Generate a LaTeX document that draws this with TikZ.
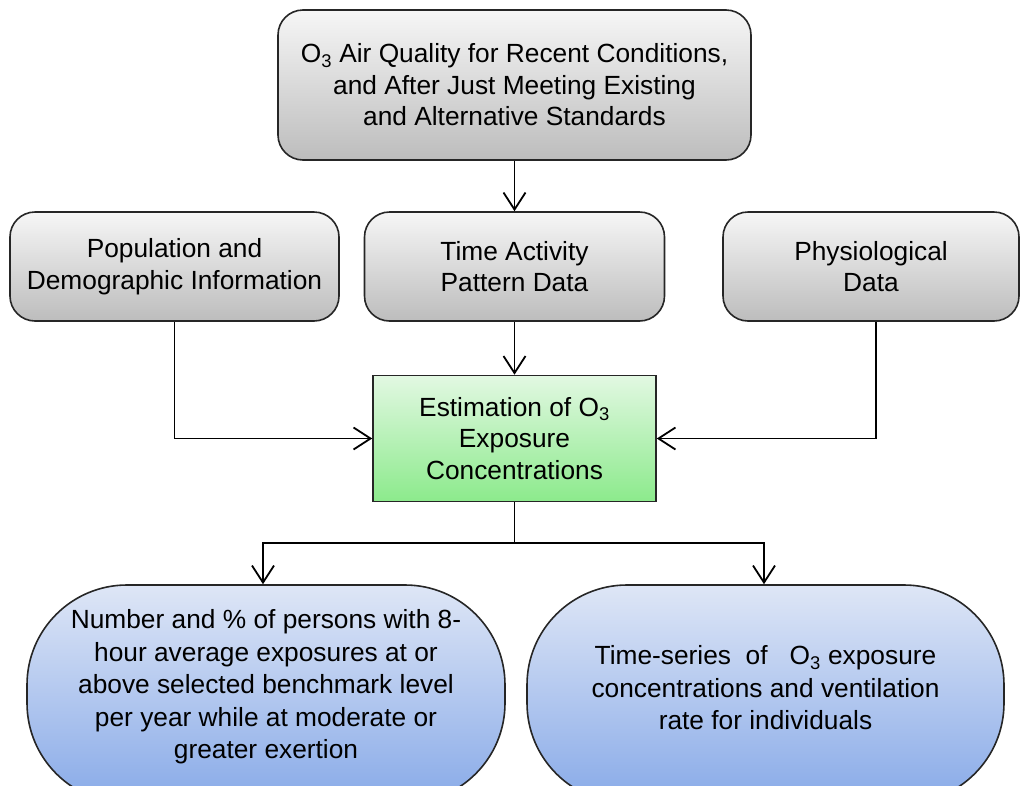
\documentclass[tikz,border=0pt]{standalone}
\usepackage{fontspec}
\setmainfont{Liberation Sans}
\usetikzlibrary{arrows.meta,shadings}
\newcommand\ozsub{\textsubscript{3}}
\begin{document}
\begin{tikzpicture}[x=1pt,y=-1pt,
  boxbase/.style={draw=black!85, line width=1.6pt, align=center, inner sep=0pt,
    font=\fontsize{26.3}{31.5}\selectfont},
  graybox/.style={boxbase, rounded corners=25pt, top color=gray!7, bottom color=gray!52},
  greenbox/.style={boxbase, top color={rgb,255:red,226;green,248;blue,226},
    bottom color={rgb,255:red,140;green,234;blue,140}},
  bluebox/.style={draw=black!85, line width=1.6pt, rounded corners=100pt, inner sep=0pt,
    top color={rgb,255:red,222;green,230;blue,246}, bottom color={rgb,255:red,136;green,170;blue,232}},
  bluetext/.style={align=center, inner sep=0pt, font=\fontsize{26.3}{32.5}\selectfont},
  plainline/.style={line width=1.8pt},
  link/.style={plainline, -{Straight Barb[length=17pt,width=22pt]}}]
\useasboundingbox (0,0) rectangle (1020,785);
\clip (0,0) rectangle (1020,785);

% source boxes
\node[graybox, minimum width=473pt, minimum height=150pt] (aq) at (514.5,85)
  {O\ozsub\ Air Quality for Recent Conditions,\\and After Just Meeting Existing\\and Alternative Standards};
\node[graybox, minimum width=329pt, minimum height=109pt] (pop) at (174.5,266.5)
  {Population and\\Demographic Information};
\node[graybox, minimum width=300pt, minimum height=109pt] (tap) at (514.5,266.5)
  {Time Activity\\Pattern Data};
\node[graybox, minimum width=296pt, minimum height=109pt] (phys) at (871,266.5)
  {Physiological\\Data};

% central estimation step
\node[greenbox, minimum width=283pt, minimum height=126pt] (est) at (514.5,438.5)
  {Estimation of O\ozsub\\Exposure\\Concentrations};

% outputs
\node[bluebox, minimum width=478pt, minimum height=218pt] (nb) at (266,694) {};
\node[bluetext] (nbtext) at (266,687)
  {Number and \% of persons with 8-\\hour average exposures at or\\above selected benchmark level\\per year while at moderate or\\greater exertion};
\node[bluebox, minimum width=477pt, minimum height=218pt] (ts) at (765.5,694) {};
\node[bluetext] (tstext) at (765.5,688)
  {Time-series~ of~~ O\ozsub\ exposure\\concentrations and ventilation\\rate for individuals};

% connectors
\draw[link] (aq.south) -- (tap.north);
\draw[link] (tap.south) -- (est.north);
\draw[link] (pop.south) |- (est.west);
\draw[link] ([xshift=5pt]phys.south) |- (est.east);
\coordinate (split) at (est.south |- 0,543);
\draw[plainline] (est.south) -- (split);
\draw[link] (split) -| ([xshift=-3pt]nb.north);
\draw[link] (split) -| ([xshift=-1.5pt]ts.north);
\end{tikzpicture}
\end{document}
